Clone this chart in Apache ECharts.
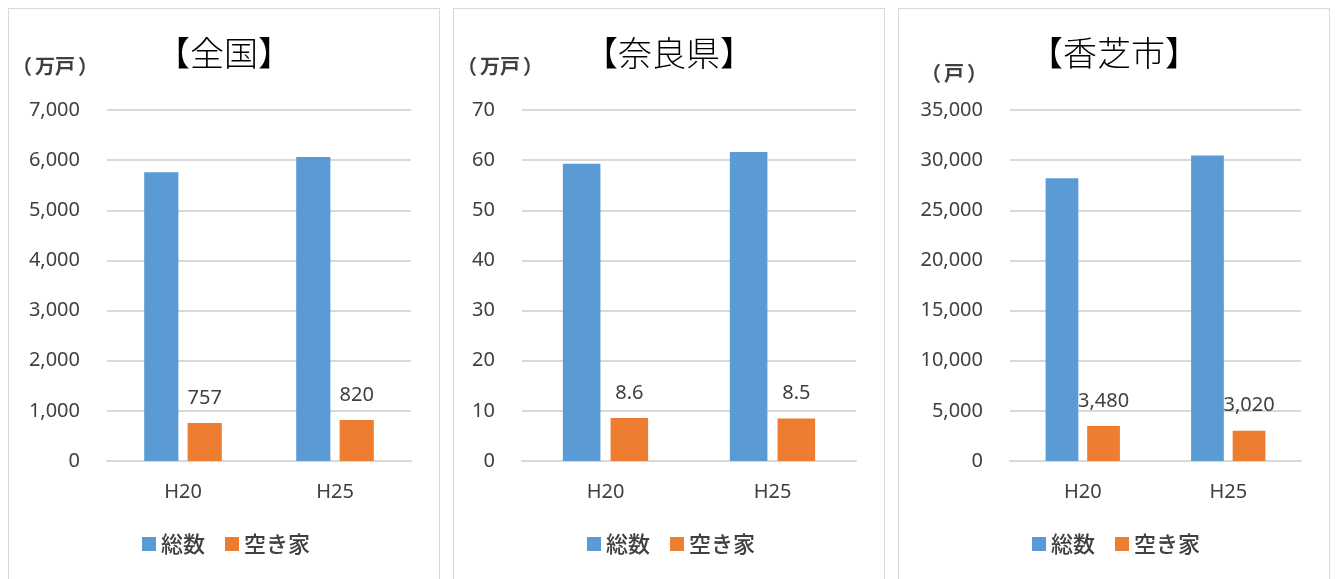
<!DOCTYPE html>
<html>
<head>
<meta charset="utf-8">
<script src="https://cdn.jsdelivr.net/npm/echarts@6/dist/echarts.min.js"></script>
<style>
  html, body { margin: 0; padding: 0; background: #fff; }
  .panel {
    position: absolute; top: 8px; width: 432px; height: 590px;
    border: 1px solid #d9d9d9; box-sizing: border-box; background: #fff;
  }
  .panel > div { width: 100%; height: 100%; }
</style>
</head>
<body>
<div class="panel" style="left:8px"><div id="c1"></div></div>
<div class="panel" style="left:453px"><div id="c2"></div></div>
<div class="panel" style="left:898px"><div id="c3"></div></div>
<script>
// 住宅総数と空き家数（H20 / H25）
var categories = ['H20', 'H25'];
var seriesNames = ['総数', '空き家'];

var zenkokuTotal = [5759, 6063];
var zenkokuVacant = [757, 820];

var naraTotal = [59.3, 61.6];
var naraVacant = [8.6, 8.5];

var kashibaTotal = [28200, 30470];
var kashibaVacant = [3480, 3020];

var titles = ['【全国】', '【奈良県】', '【香芝市】'];
var units = ['万戸', '万戸', '戸'];
var axisMax = [7000, 70, 35000];
var axisStep = [1000, 10, 5000];

var textColor = '#404040';
var numFont = '"Noto Sans", "Noto Sans CJK JP", sans-serif';
var cjkFont = '"Noto Sans CJK JP", sans-serif';

function fmt(v) {
  return Number(v).toLocaleString('en-US');
}

function setPanel(id, i, total, vacant, gridLeft, unitLeft, unitTop) {
  var chart = echarts.init(document.getElementById(id));
  chart.setOption({
    animation: false,
    title: [
      {
        text: titles[i],
        left: 'center',
        top: 27,
        padding: 0,
        textStyle: { fontFamily: cjkFont, fontSize: 34, fontWeight: 300, color: '#000' }
      },
      {
        text: '{p1|（}{u|' + units[i] + '}{p2|）}',
        left: unitLeft,
        top: unitTop,
        padding: 0,
        textStyle: {
          rich: {
            p1: { fontFamily: cjkFont, fontSize: 20, color: textColor, padding: [0, 3, 0, 0] },
            u: { fontFamily: cjkFont, fontSize: 20, fontWeight: 'bold', color: textColor },
            p2: { fontFamily: cjkFont, fontSize: 20, color: textColor, padding: [0, 0, 0, 3] }
          }
        }
      }
    ],
    legend: {
      data: seriesNames,
      left: 128,
      top: 519,
      itemWidth: 14,
      itemHeight: 14,
      itemGap: 20,
      icon: 'rect',
      textStyle: { fontFamily: cjkFont, fontSize: 22, fontWeight: 500, color: textColor }
    },
    grid: { left: gridLeft, right: 28, top: 101, height: 351 },
    xAxis: {
      type: 'category',
      data: categories,
      axisLine: { lineStyle: { color: '#d9d9d9', width: 2 } },
      axisTick: { show: false },
      axisLabel: { margin: 21, fontFamily: numFont, fontSize: 20, color: textColor }
    },
    yAxis: {
      type: 'value',
      min: 0,
      max: axisMax[i],
      interval: axisStep[i],
      axisLine: { show: false },
      axisTick: { show: false },
      axisLabel: { margin: 27, fontFamily: numFont, fontSize: 20, color: textColor, formatter: fmt },
      splitLine: { lineStyle: { color: '#d9d9d9', width: 2 } }
    },
    series: [
      {
        name: seriesNames[0],
        type: 'bar',
        data: total,
        barWidth: '22.5%',
        barGap: '27%',
        itemStyle: { color: '#5b9bd5' }
      },
      {
        name: seriesNames[1],
        type: 'bar',
        data: vacant,
        barWidth: '22.5%',
        itemStyle: { color: '#ed7d31' },
        label: {
          show: true,
          position: 'top',
          distance: 15,
          fontFamily: numFont,
          fontSize: 20,
          color: textColor,
          formatter: function (p) { return fmt(p.value); }
        }
      }
    ]
  });
}

setPanel('c1', 0, zenkokuTotal, zenkokuVacant, 98, 3, 47);
setPanel('c2', 1, naraTotal, naraVacant, 68, 3, 47);
setPanel('c3', 2, kashibaTotal, kashibaVacant, 111, 22, 54);
</script>
</body>
</html>
